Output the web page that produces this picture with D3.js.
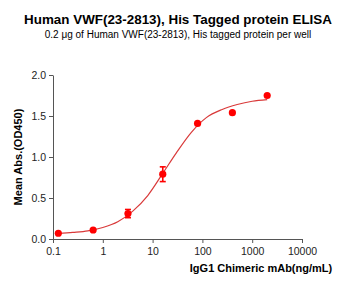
<!DOCTYPE html>
<html>
<head>
<meta charset="utf-8">
<script src="https://cdn.jsdelivr.net/npm/d3@7"></script>
<style>
  body { margin: 0; background: #fff; }
  text { font-family: "Liberation Sans", Arial, sans-serif; }
</style>
</head>
<body>
<div class="svgContainer"></div>
<script>
// Data
var CONC = [0.128, 0.64, 3.2, 16, 80, 400, 2000];
var OD = [0.07, 0.11, 0.31, 0.79, 1.41, 1.54, 1.75];
var ERR = [0, 0, 0.05, 0.09, 0, 0, 0];

// fitted curve
var FIT_X = [0.128, 0.25, 0.5, 1, 2, 4, 8, 16, 30, 60, 120, 250, 500, 1000, 2000];
var FIT_Y = [0.065, 0.08, 0.10, 0.14, 0.21, 0.34, 0.53, 0.80, 1.05, 1.30, 1.48, 1.58, 1.64, 1.68, 1.70];

var X_TICKS = [0.1, 1, 10, 100, 1000, 10000];
var X_TICK_LABELS = ["0.1", "1", "10", "100", "1000", "10000"];
var Y_TICKS = [0, 0.5, 1.0, 1.5, 2.0];

var TITLE = "Human VWF(23-2813), His Tagged protein ELISA";
var SUBTITLE = "0.2 \u03bcg of Human VWF(23-2813), His tagged protein per well";
var X_LABEL = "IgG1 Chimeric mAb(ng/mL)";
var Y_LABEL = "Mean Abs.(OD450)";

var width = 350, height = 287;
var margin = {left: 53, right: 48, top: 75, bottom: 48};

var svg = d3.select(".svgContainer").append("svg")
    .attr("width", width)
    .attr("height", height);

var x = d3.scaleLog()
    .domain([0.1, 10000])
    .range([margin.left, width - margin.right]);

var y = d3.scaleLinear()
    .domain([0, 2])
    .range([height - margin.bottom, margin.top]);

var AXIS_COLOR = "#555";

// x axis
var gx = svg.append("g")
    .attr("transform", "translate(0," + y(0) + ")")
    .call(d3.axisBottom(x)
        .tickValues(X_TICKS)
        .tickFormat(function(d, i) { return X_TICK_LABELS[i]; })
        .tickSize(4)
        .tickSizeOuter(0));
gx.select(".domain").attr("stroke", AXIS_COLOR);
gx.selectAll(".tick line").attr("stroke", AXIS_COLOR);
gx.selectAll(".tick text")
    .attr("font-family", "Liberation Sans, Arial, sans-serif")
    .attr("font-size", 10.5)
    .attr("fill", "#222")
    .attr("dy", "0.9em");

// y axis
var gy = svg.append("g")
    .attr("transform", "translate(" + x(0.1) + ",0)")
    .call(d3.axisLeft(y)
        .tickValues(Y_TICKS)
        .tickFormat(d3.format(".1f"))
        .tickSize(4)
        .tickSizeOuter(0));
gy.select(".domain").attr("stroke", AXIS_COLOR);
gy.selectAll(".tick line").attr("stroke", AXIS_COLOR);
gy.selectAll(".tick text")
    .attr("font-family", "Liberation Sans, Arial, sans-serif")
    .attr("font-size", 10.5)
    .attr("fill", "#222");

// fitted curve
var fit = FIT_X.map(function(d, i) { return [d, FIT_Y[i]]; });
var line = d3.line()
    .x(function(d) { return x(d[0]); })
    .y(function(d) { return y(d[1]); })
    .curve(d3.curveMonotoneX);

svg.append("path")
    .datum(fit)
    .attr("d", line)
    .attr("fill", "none")
    .attr("stroke", "#d93a3a")
    .attr("stroke-width", 1.2);

// error bars
var pts = CONC.map(function(d, i) { return {c: d, v: OD[i], e: ERR[i]}; });
var eb = svg.append("g").attr("stroke", "#ff0000").attr("stroke-width", 1.6);
pts.filter(function(d) { return d.e > 0; }).forEach(function(d) {
    var cx = x(d.c);
    eb.append("line").attr("x1", cx).attr("x2", cx).attr("y1", y(d.v - d.e)).attr("y2", y(d.v + d.e));
    eb.append("line").attr("x1", cx - 3).attr("x2", cx + 3).attr("y1", y(d.v - d.e)).attr("y2", y(d.v - d.e));
    eb.append("line").attr("x1", cx - 3).attr("x2", cx + 3).attr("y1", y(d.v + d.e)).attr("y2", y(d.v + d.e));
});

// points
svg.selectAll("circle.dot")
    .data(pts)
    .enter().append("circle")
    .attr("class", "dot")
    .attr("cx", function(d) { return x(d.c); })
    .attr("cy", function(d) { return y(d.v); })
    .attr("r", 3.6)
    .attr("fill", "#ff0000");

// titles
svg.append("text")
    .attr("x", 178)
    .attr("y", 24)
    .attr("text-anchor", "middle")
    .attr("font-weight", "bold")
    .attr("font-size", 13.4)
    .attr("fill", "#000")
    .text(TITLE);

svg.append("text")
    .attr("x", 178)
    .attr("y", 38)
    .attr("text-anchor", "middle")
    .attr("font-size", 10)
    .attr("fill", "#000")
    .text(SUBTITLE);

svg.append("text")
    .attr("x", 261)
    .attr("y", 272)
    .attr("text-anchor", "middle")
    .attr("font-weight", "bold")
    .attr("font-size", 11)
    .attr("fill", "#000")
    .text(X_LABEL);

svg.append("text")
    .attr("transform", "translate(22," + y(1) + ") rotate(-90)")
    .attr("text-anchor", "middle")
    .attr("font-weight", "bold")
    .attr("font-size", 11)
    .attr("fill", "#000")
    .text(Y_LABEL);
</script>
</body>
</html>
